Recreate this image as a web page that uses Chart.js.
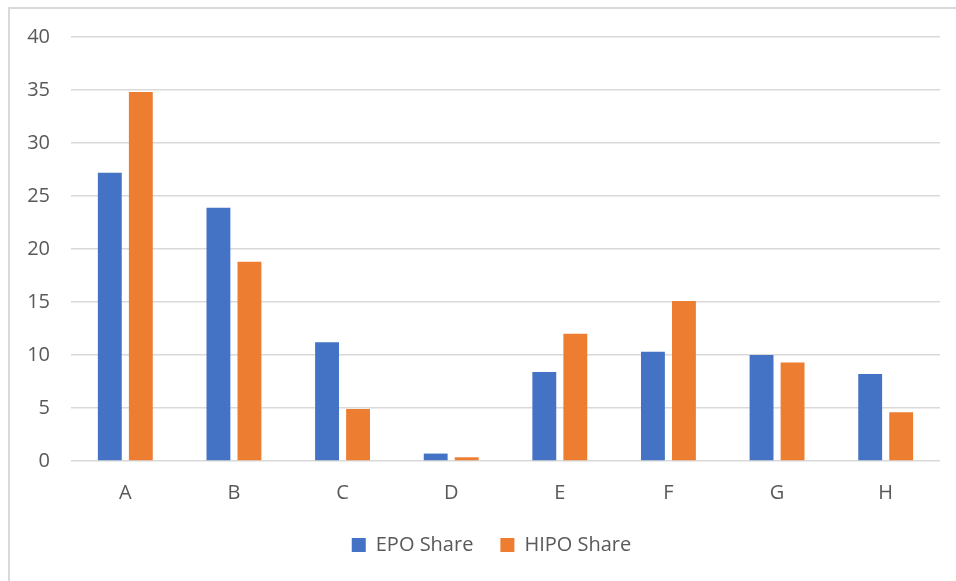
<!DOCTYPE html>
<html lang="en">
<head>
    <meta charset="UTF-8">
    <title>EPO vs HIPO Share</title>
    <script src="https://cdn.jsdelivr.net/npm/chart.js"></script>
    <style>
        html, body { margin: 0; padding: 0; background: #fff; overflow: hidden; }
        .moldura {
            position: absolute; left: 8px; top: 7px;
            width: 1000px; height: 700px;
            border: 2px solid #d9d9d9; box-sizing: border-box;
        }
        .grafico { position: absolute; left: 0; top: 0; width: 956px; height: 581px; }
    </style>
</head>
<body>
    <div class="moldura"></div>
    <div class="grafico">
        <canvas id="GraficoBarras"></canvas>
    </div>

<script>
    // dados
    var categorias = ['A', 'B', 'C', 'D', 'E', 'F', 'G', 'H'];
    var epoShare = [27.2, 23.9, 11.2, 0.7, 8.4, 10.3, 10.0, 8.2];
    var hipoShare = [34.8, 18.8, 4.9, 0.35, 12.0, 15.1, 9.3, 4.6];
    var yMin = 0, yMax = 40, yStep = 5;

    var corTexto = '#595959';
    var fonte = { family: '"Open Sans", "Noto Sans", sans-serif', size: 20 };

    // empurra a legenda pra direita, centralizada como no original
    const deslocaLegenda = {
        id: 'deslocaLegenda',
        afterLayout: function (chart) {
            chart.legend.left += 43;
        }
    };

    const ctx = document.getElementById('GraficoBarras').getContext('2d');
    const myChart = new Chart(ctx, {
        type: 'bar',
        data: {
            labels: categorias,
            datasets: [{
                label: 'EPO Share',
                data: epoShare,
                backgroundColor: '#4472C4'
            }, {
                label: 'HIPO Share',
                data: hipoShare,
                backgroundColor: '#ED7D31'
            }]
        },
        options: {
            responsive: true,
            maintainAspectRatio: false,
            animation: false,
            categoryPercentage: 0.571,
            barPercentage: 0.77,
            layout: { padding: { left: 0, right: 16, top: 37, bottom: 16 } },
            plugins: {
                tooltip: { enabled: false },
                legend: {
                    position: 'bottom',
                    labels: {
                        color: corTexto,
                        font: fonte,
                        boxWidth: 14,
                        boxHeight: 14,
                        padding: 27
                    }
                }
            },
            scales: {
                y: {
                    min: yMin,
                    max: yMax,
                    ticks: { stepSize: yStep, color: corTexto, font: fonte, padding: 21 },
                    grid: { color: '#d9d9d9', lineWidth: 1.5, drawTicks: false },
                    border: { display: false },
                    afterFit: function (eixo) { eixo.width = 71; }
                },
                x: {
                    ticks: { color: corTexto, font: fonte, padding: 20 },
                    grid: { display: false, drawTicks: false },
                    border: { display: false },
                    afterFit: function (eixo) { eixo.height = 47; }
                }
            }
        },
        plugins: [deslocaLegenda]
    });
</script>
</body>
</html>
